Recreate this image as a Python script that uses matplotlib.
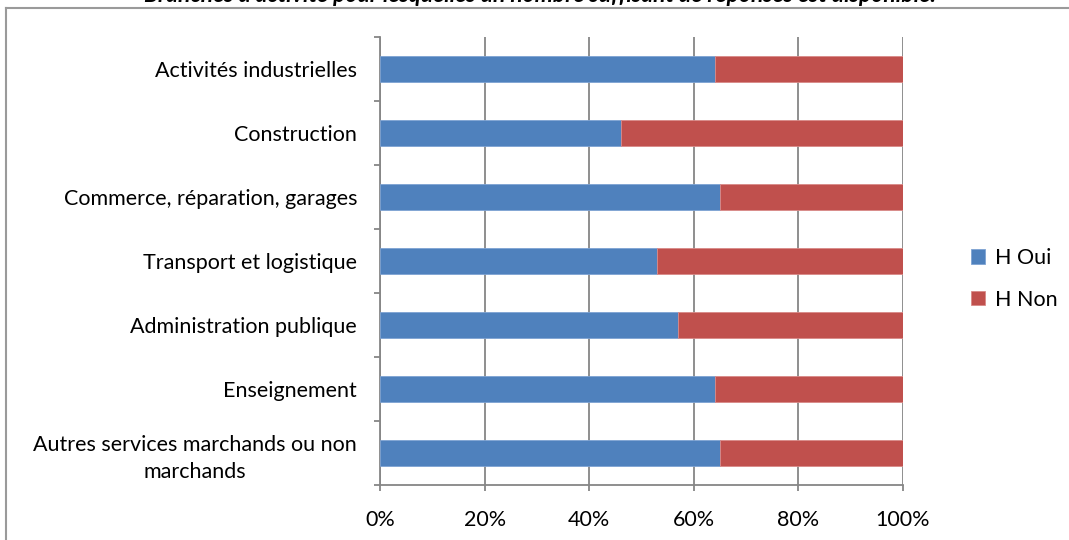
import matplotlib
matplotlib.use("Agg")
import matplotlib.pyplot as plt
from matplotlib.lines import Line2D
import numpy as np

plt.rcParams['font.family'] = ['Lato', 'DejaVu Sans']

categories = [
    "Activités industrielles",
    "Construction",
    "Commerce, réparation, garages",
    "Transport et logistique",
    "Administration publique",
    "Enseignement",
    "Autres services marchands ou non\nmarchands",
]
oui = [64, 46, 65, 53, 57, 64, 65]
non = [36, 54, 35, 47, 43, 36, 35]
series_labels = ["H Oui", "H Non"]
x_ticks = [0, 20, 40, 60, 80, 100]
x_tick_labels = ["0%", "20%", "40%", "60%", "80%", "100%"]
title = "Branches d'activité pour lesquelles un nombre suffisant de réponses est disponible."

BLUE = "#4F81BD"
RED = "#C0504D"
GRID = "#868686"
FS = 15.5

W, H = 1069, 540
fig = plt.figure(figsize=(W / 100, H / 100), dpi=100)
fig.patch.set_facecolor("white")

# chart frame (top and left edges visible)
fig.add_artist(Line2D([5.5 / W, 5.5 / W], [0, 1 - 8 / H], color="#9a9a9a", lw=1.5,
                      transform=fig.transFigure))
fig.add_artist(Line2D([5.5 / W, 1], [1 - 8 / H, 1 - 8 / H], color="#9a9a9a", lw=1.5,
                      transform=fig.transFigure))

fig.text(540 / W, 1 - 2 / H, title, ha="center", va="baseline",
         fontsize=16.5, fontweight="bold", fontstyle="italic", color="black")

ax = fig.add_axes([380 / W, 1 - 485 / H, (903 - 380) / W, (485 - 37) / H])

y = np.arange(len(categories))
# totals normalised to 100 %
tot = np.array(oui, float) + np.array(non, float)
p_oui = np.array(oui) / tot * 100
p_non = np.array(non) / tot * 100

ax.barh(y, p_oui, height=0.4, color=BLUE, edgecolor="#7ea3d3", linewidth=0.6,
        label=series_labels[0], zorder=3)
ax.barh(y, p_non, left=p_oui, height=0.4, color=RED, edgecolor="#d98a88",
        linewidth=0.6, label=series_labels[1], zorder=3)

ax.set_xlim(0, 100)
ax.set_ylim(len(categories) - 0.5, -0.5)

ax.set_xticks(x_ticks)
ax.set_xticklabels(x_tick_labels, fontsize=FS)
ax.xaxis.grid(True, color=GRID, linewidth=1.3, zorder=0)
ax.tick_params(axis="x", length=4, width=1.3, color=GRID, direction="out", pad=14)

ax.set_yticks(y)
ax.set_yticklabels(categories, fontsize=FS, multialignment="center", linespacing=1.45)
ax.tick_params(axis="y", length=0, pad=16.5)
ax.set_yticks(np.arange(len(categories) + 1) - 0.5, minor=True)
ax.tick_params(axis="y", which="minor", length=4, width=1.3, color=GRID, direction="out")

for s in ["top", "right"]:
    ax.spines[s].set_visible(False)
for s in ["left", "bottom"]:
    ax.spines[s].set_color(GRID)
    ax.spines[s].set_linewidth(1.3)

leg = fig.legend(loc="center left", bbox_to_anchor=(952 / W, 1 - 279 / H),
                 frameon=False, fontsize=FS, handlelength=0.65, handleheight=0.65,
                 handletextpad=0.45, labelspacing=1.0)

fig.savefig("out.png", dpi=100)
